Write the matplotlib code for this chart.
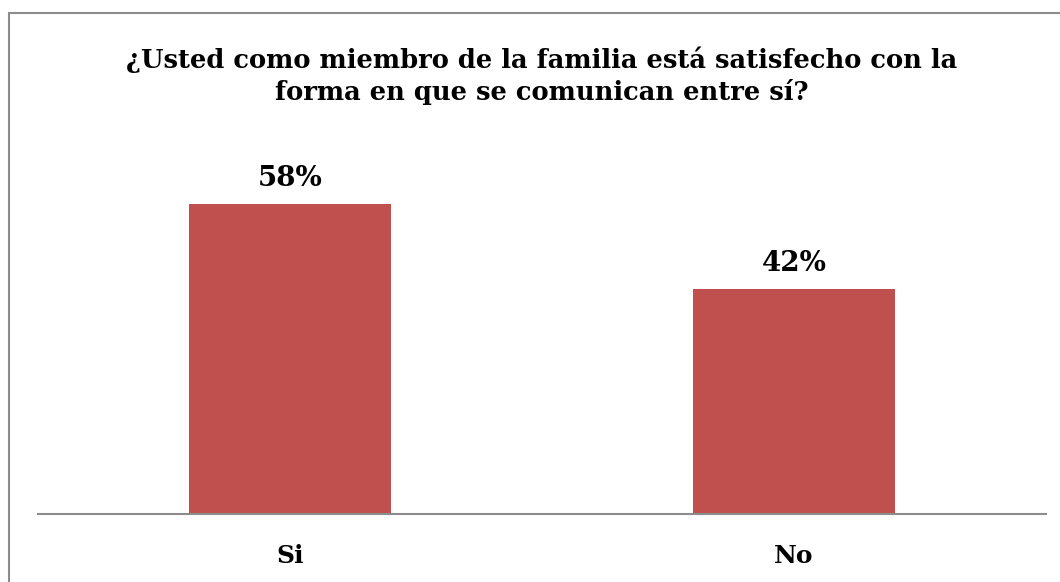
import matplotlib
matplotlib.use("Agg")
import matplotlib.pyplot as plt
from matplotlib.patches import Rectangle

categories = ["Si", "No"]
values = [58, 42]
value_labels = ["58%", "42%"]
title = "¿Usted como miembro de la familia está satisfecho con la\nforma en que se comunican entre sí?"

W, H = 1060, 582
fig = plt.figure(figsize=(W / 100, H / 100), dpi=100)

# outer chart border (runs off the right and bottom edge like the source)
fig.patches.append(Rectangle((9 / W, -0.5), 1.2, 1.5 - 12.5 / H, transform=fig.transFigure,
                             fill=False, edgecolor="#8c8c8c", linewidth=1.5))

# axes: baseline at y=513, x from 38 to 1046
ax = fig.add_axes([38 / W, 1 - 513.5 / H, 1008 / W, (513.5 - 140) / H])
bars = ax.bar(range(len(values)), values, width=0.4, color="#C0504D")
ax.set_xlim(-0.5, len(values) - 0.5)
ax.set_ylim(0, 70)

for b, lab in zip(bars, value_labels):
    ax.annotate(lab, (b.get_x() + b.get_width() / 2, b.get_height()),
                xytext=(0, 9), textcoords="offset points", ha="center", va="bottom",
                fontsize=20, fontweight="bold", family="DejaVu Serif")

ax.set_xticks(range(len(categories)))
ax.set_xticklabels(categories, fontsize=18, fontweight="bold", family="DejaVu Serif")
ax.tick_params(axis="x", length=0, pad=22)
ax.set_yticks([])
for s in ["top", "right", "left"]:
    ax.spines[s].set_visible(False)
ax.spines["bottom"].set_color("#8c8c8c")
ax.spines["bottom"].set_linewidth(1.5)

fig.text(542 / W, 1 - 76 / H, title, ha="center", va="center", fontsize=18.5,
         fontweight="bold", family="DejaVu Serif", linespacing=1.3)

fig.savefig("out.png", dpi=100)
